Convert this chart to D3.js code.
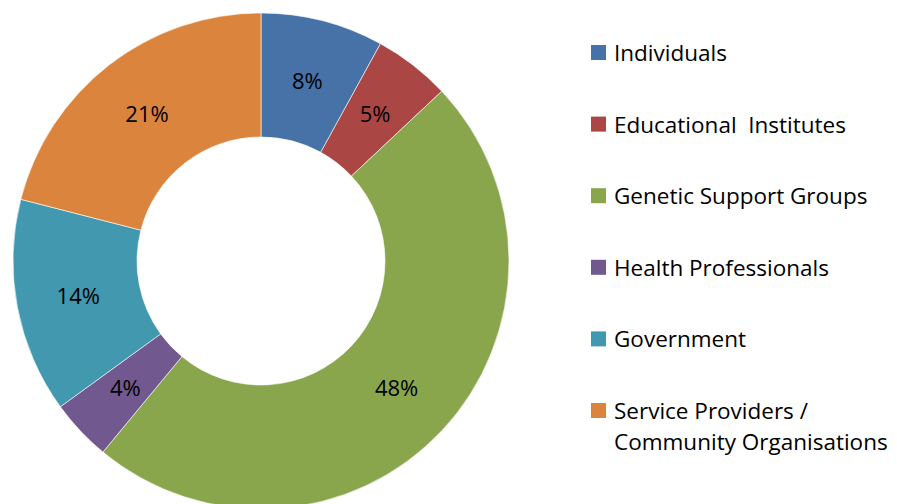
<!DOCTYPE html>
<html><head><meta charset="utf-8">
<script src="https://cdn.jsdelivr.net/npm/d3@7"></script>
<style>body{margin:0;background:#fff}svg{display:block}</style>
</head><body>
<svg id="chart" width="897" height="504"></svg>
<script>
const categories = ["Individuals","Educational Institutes","Genetic Support Groups","Health Professionals","Government","Service Providers / Community Organisations"];
const legendLines = [["Individuals"],["Educational  Institutes"],["Genetic Support Groups"],["Health Professionals"],["Government"],["Service Providers /","Community Organisations"]];
const values = [8,5,48,4,14,21];
const colors = ["#4672A8","#AA4644","#8AA64D","#71588F","#4198AF","#DB843D"];

const svg = d3.select("#chart");
const cx = 261, cy = 261, R = 248, r = 124;
const font = "'Open Sans', sans-serif";
const color = d3.scaleOrdinal().domain(categories).range(colors);
const pie = d3.pie().sort(null).value(d => d.v);
const arcs = pie(categories.map((c,i)=>({c, v: values[i]})));
const arc = d3.arc().innerRadius(r).outerRadius(R);
const labelArc = d3.arc().innerRadius((r+R)/2).outerRadius((r+R)/2);
const g = svg.append("g").attr("transform",`translate(${cx},${cy})`);
g.selectAll("path").data(arcs).join("path")
  .attr("d",arc).attr("fill",d=>color(d.data.c))
  .attr("stroke","#fff").attr("stroke-width",0.6);
g.selectAll("text").data(arcs).join("text")
  .attr("transform",d=>`translate(${labelArc.centroid(d)})`)
  .attr("text-anchor","middle").attr("dy","0.35em")
  .attr("font-family",font).attr("font-size",22).attr("fill","#000")
  .text(d=>d.data.v+"%");

const leg = svg.append("g");
const ly = d3.scalePoint().domain(categories).range([52,410]);
categories.forEach((c,i)=>{
  const y = ly(c);
  leg.append("rect").attr("x",591).attr("y",y-7).attr("width",15).attr("height",15).attr("fill",color(c));
  legendLines[i].forEach((t,j)=>{
    leg.append("text").attr("x",614).attr("y",y+9+j*31)
      .attr("font-family",font).attr("font-size",22.5).attr("fill","#000")
      .attr("xml:space","preserve").style("white-space","pre").text(t);
  });
});
</script>
</body></html>
